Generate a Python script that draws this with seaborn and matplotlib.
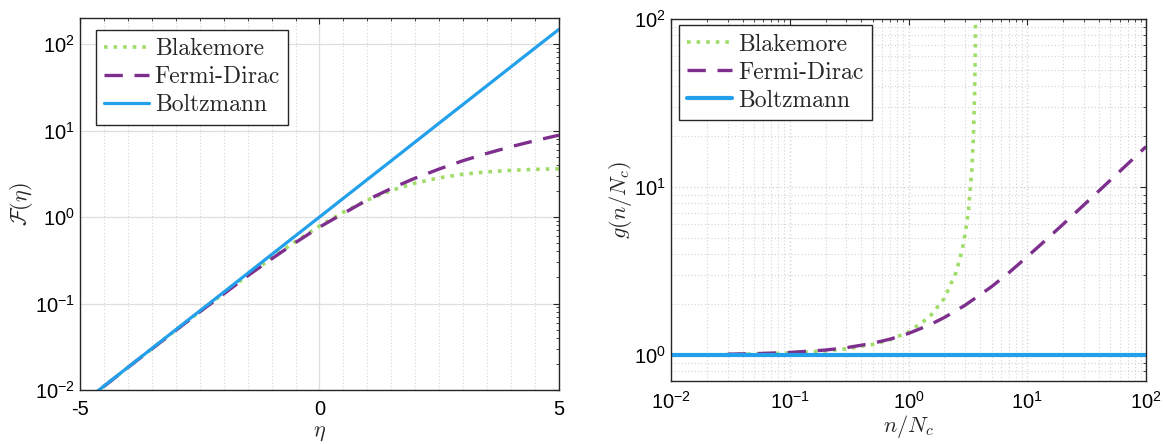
# Statistics functions: F(eta) and the degeneracy factor g(n/Nc)

import seaborn as sns
import matplotlib
matplotlib.use('Agg')
import matplotlib.pyplot as plt
from matplotlib.ticker import MultipleLocator, LogLocator, NullFormatter
import pandas as pd

# left panel values
eta = [-5.0, -4.5, -4.0, -3.5, -3.0, -2.5, -2.0, -1.5, -1.0, -0.5, 0.0,
       0.5, 1.0, 1.5, 2.0, 2.5, 3.0, 3.5, 4.0, 4.5, 5.0]
F_blakemore = [0.00673, 0.0110, 0.0182, 0.0300, 0.0491, 0.0806, 0.131, 0.211, 0.335,
               0.521, 0.787, 1.14, 1.57, 2.03, 2.47, 2.84, 3.13, 3.33, 3.47, 3.56, 3.61]
F_fermi = [0.00672, 0.0110, 0.0182, 0.0298, 0.0489, 0.0800, 0.129, 0.209, 0.328,
           0.507, 0.765, 1.10, 1.58, 2.14, 2.82, 3.59, 4.49, 5.45, 6.51, 7.64, 8.84]
F_boltzmann = [0.00674, 0.0111, 0.0183, 0.0302, 0.0498, 0.0821, 0.135, 0.223, 0.368,
               0.607, 1.0, 1.65, 2.72, 4.48, 7.39, 12.2, 20.1, 33.1, 54.6, 90.0, 148.0]

# right panel values
u_blakemore = [0.03, 0.05, 0.1, 0.2, 0.3, 0.5, 0.7, 1.0, 1.5, 2.0, 2.5, 2.8,
               3.0, 3.2, 3.4, 3.5, 3.6, 3.65, 3.68]
g_blakemore = [1.008, 1.014, 1.028, 1.057, 1.088, 1.156, 1.233, 1.370, 1.681, 2.174,
               3.077, 4.10, 5.26, 7.35, 12.2, 18.2, 35.7, 69.0, 156.0]
u_fermi = [0.03, 0.05, 0.1, 0.2, 0.3, 0.5, 0.7, 1.0, 1.5, 2.0, 3.0, 5.0, 7.0,
           10.0, 15.0, 20.0, 30.0, 50.0, 70.0, 100.0]
g_fermi = [1.011, 1.018, 1.035, 1.070, 1.105, 1.174, 1.243, 1.344, 1.509, 1.671,
           1.98, 2.55, 3.09, 3.85, 4.98, 6.00, 7.83, 10.97, 13.72, 17.4]
u_boltzmann = [0.01, 100.0]
g_boltzmann = [1.0, 1.0]

labels = ['Blakemore', 'Fermi-Dirac', 'Boltzmann']
colors = ['#9fdc68', '#7e2f8e', '#22a0ec']

left = pd.DataFrame({'eta': eta, 'Blakemore': F_blakemore,
                     'Fermi-Dirac': F_fermi, 'Boltzmann': F_boltzmann})

sns.set_style('white')
plt.rcParams['font.family'] = ['Liberation Sans', 'DejaVu Sans']
plt.rcParams['mathtext.fontset'] = 'cm'
plt.rcParams['axes.unicode_minus'] = False

fig = plt.figure(figsize=(11.64, 4.44), dpi=100)
ax1 = fig.add_axes([0.0687, 0.1216, 0.4115, 0.8378])
ax2 = fig.add_axes([0.5765, 0.1419, 0.4081, 0.8153])

# left panel
sns.lineplot(x='eta', y='Blakemore', data=left, ax=ax1, color=colors[0],
             linewidth=2.6, linestyle=':', label=labels[0])
sns.lineplot(x='eta', y='Fermi-Dirac', data=left, ax=ax1, color=colors[1],
             linewidth=2.4, label=labels[1])
ax1.lines[-1].set_dashes((5.5, 3.5))
sns.lineplot(x='eta', y='Boltzmann', data=left, ax=ax1, color=colors[2],
             linewidth=2.3, label=labels[2])
ax1.set_yscale('log')
ax1.set_xlim(-5, 5)
ax1.set_ylim(0.01, 200)
ax1.set_xticks([-5, 0, 5])
ax1.set_xticklabels(['-5', '0', '5'])
ax1.xaxis.set_minor_locator(MultipleLocator(0.5))
ax1.yaxis.set_minor_locator(LogLocator(base=10, subs=range(2, 10), numticks=20))
ax1.yaxis.set_minor_formatter(NullFormatter())
ax1.grid(True, which='major', color='#dedede', linewidth=0.9, linestyle='-')
ax1.xaxis.grid(True, which='minor', color='#d4d4d4', linewidth=0.8, linestyle=(0, (1, 2)))
ax1.set_xlabel(r'$\eta$', fontsize=16, math_fontfamily='cm', labelpad=2)
ax1.set_ylabel(r'$\mathcal{F}(\eta)$', fontsize=16, math_fontfamily='cm', labelpad=0)

# right panel
sns.lineplot(x=u_blakemore, y=g_blakemore, ax=ax2, color=colors[0],
             linewidth=2.6, linestyle=':', label=labels[0])
sns.lineplot(x=u_fermi, y=g_fermi, ax=ax2, color=colors[1],
             linewidth=2.4, label=labels[1])
ax2.lines[-1].set_dashes((5.5, 3.5))
sns.lineplot(x=u_boltzmann, y=g_boltzmann, ax=ax2, color=colors[2],
             linewidth=3.0, label=labels[2])
ax2.set_xscale('log')
ax2.set_yscale('log')
ax2.set_xlim(0.01, 100)
ax2.set_ylim(0.7, 100)
ax2.set_yticks([1, 10, 100])
for axis in (ax2.xaxis, ax2.yaxis):
    axis.set_minor_locator(LogLocator(base=10, subs=range(2, 10), numticks=20))
    axis.set_minor_formatter(NullFormatter())
ax2.grid(True, which='major', color='#cfcfcf', linewidth=0.9, linestyle=(0, (1, 2)))
ax2.grid(True, which='minor', color='#d4d4d4', linewidth=0.8, linestyle=(0, (1, 2)))
ax2.set_xlabel(r'$n/N_c$', fontsize=16, math_fontfamily='cm', labelpad=0)
ax2.set_ylabel(r'$g(n/N_c)$', fontsize=16, math_fontfamily='cm', labelpad=0)

for ax, anchor in ((ax1, (0.033, 0.968)), (ax2, (0.017, 0.983))):
    ax.set_axisbelow(True)
    for s in ax.spines.values():
        s.set_color('#262626')
        s.set_linewidth(1.0)
    ax.tick_params(which='both', direction='in', top=True, right=True,
                   colors='#262626', labelsize=14.5, labelcolor='black')
    ax.tick_params(which='major', length=4.5, width=0.8)
    ax.tick_params(which='minor', length=2.5, width=0.6)
    ax.tick_params(axis='x', which='major', pad=7)
    leg = ax.legend(loc='upper left', bbox_to_anchor=anchor, borderaxespad=0,
                    prop={'family': 'cmr10', 'size': 17}, fancybox=False,
                    framealpha=1, edgecolor='#262626', handlelength=1.9,
                    handletextpad=0.25, labelspacing=0.25, borderpad=0.35)
    leg.get_frame().set_linewidth(1.0)

fig.savefig('out.png', dpi=100)
